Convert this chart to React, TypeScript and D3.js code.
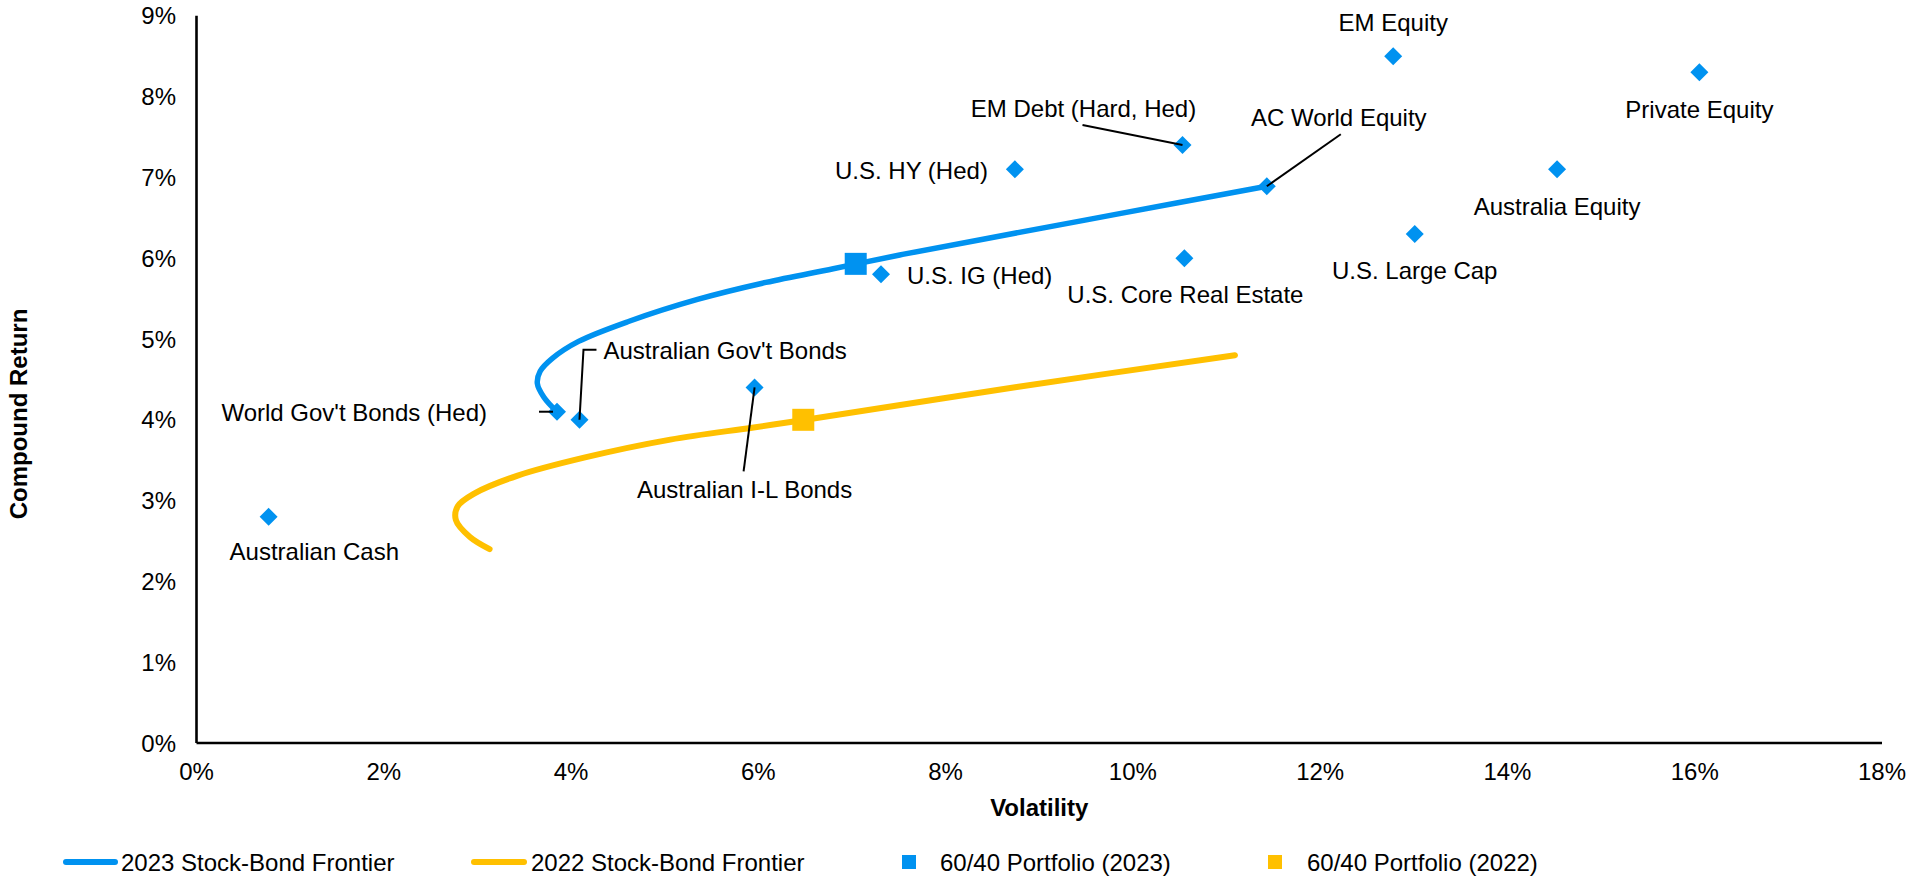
import React from "react";
import * as d3 from "d3";

// ---------- data ----------
const assetNames = [
  "EM Equity",
  "Private Equity",
  "EM Debt (Hard, Hed)",
  "U.S. HY (Hed)",
  "AC World Equity",
  "Australia Equity",
  "U.S. Large Cap",
  "U.S. Core Real Estate",
  "U.S. IG (Hed)",
  "Australian I-L Bonds",
  "Australian Gov't Bonds",
  "World Gov't Bonds (Hed)",
  "Australian Cash",
];
const assetVol = [12.78, 16.05, 10.53, 8.74, 11.43, 14.53, 13.01, 10.55, 7.31, 5.96, 4.09, 3.85, 0.77];
const assetRet = [8.5, 8.3, 7.4, 7.1, 6.89, 7.1, 6.3, 6.0, 5.8, 4.4, 4.0, 4.1, 2.8];

const frontier2023Vol = [3.85, 3.71, 3.64, 3.67, 3.8, 4.08, 4.62, 5.35, 6.08, 6.8, 7.51, 8.4, 9.83, 11.43];
const frontier2023Ret = [4.1, 4.28, 4.45, 4.6, 4.76, 4.97, 5.22, 5.49, 5.7, 5.87, 6.04, 6.235, 6.545, 6.89];

const frontier2022Vol = [3.13, 2.92, 2.77, 2.79, 2.97, 3.43, 4.15, 5.06, 5.95, 6.47, 8.76, 11.09];
const frontier2022Ret = [2.4, 2.55, 2.76, 2.93, 3.09, 3.31, 3.535, 3.755, 3.905, 3.995, 4.405, 4.8];

const portfolioNames = ["60/40 Portfolio (2023)", "60/40 Portfolio (2022)"];
const portfolioVol = [7.04, 6.48];
const portfolioRet = [5.93, 4.0];

const xTickValues = [0, 2, 4, 6, 8, 10, 12, 14, 16, 18];
const yTickValues = [0, 1, 2, 3, 4, 5, 6, 7, 8, 9];

const legendLabels = [
  "2023 Stock-Bond Frontier",
  "2022 Stock-Bond Frontier",
  "60/40 Portfolio (2023)",
  "60/40 Portfolio (2022)",
];

// ---------- layout / style ----------
const W = 1906;
const H = 876;
const BLUE = "#0092F0";
const YELLOW = "#FFC000";
const FONT = "'Liberation Sans', Arial, Helvetica, sans-serif";

// label placement relative to point (px): dx, dy, anchor, optional leader polyline (relative)
type LabelLayout = { dx: number; dy: number; anchor: "start" | "middle" | "end"; leader?: [number, number][] };
const labelLayout: Record<string, LabelLayout> = {
  "EM Equity": { dx: 0, dy: -34, anchor: "middle" },
  "Private Equity": { dx: 0, dy: 37, anchor: "middle" },
  "EM Debt (Hard, Hed)": { dx: -99, dy: -37, anchor: "middle", leader: [[-100, -20], [0, 0]] },
  "U.S. HY (Hed)": { dx: -27, dy: 1, anchor: "end" },
  "AC World Equity": { dx: 72, dy: -69, anchor: "middle", leader: [[74, -52], [0, 0]] },
  "Australia Equity": { dx: 0, dy: 37, anchor: "middle" },
  "U.S. Large Cap": { dx: 0, dy: 37, anchor: "middle" },
  "U.S. Core Real Estate": { dx: 1, dy: 36, anchor: "middle" },
  "U.S. IG (Hed)": { dx: 26, dy: 1, anchor: "start" },
  "Australian I-L Bonds": { dx: -10, dy: 102, anchor: "middle", leader: [[-11, 84], [0, 0]] },
  "Australian Gov't Bonds": { dx: 24, dy: -69, anchor: "start", leader: [[17, -70], [4, -70], [0, 0]] },
  "World Gov't Bonds (Hed)": { dx: -70, dy: 1, anchor: "end", leader: [[-18, 0], [-4, 0]] },
  "Australian Cash": { dx: -39, dy: 35, anchor: "start" },
};

export default function App() {
  const x = d3.scaleLinear().domain([0, 18]).range([196.5, 1882]);
  const y = d3.scaleLinear().domain([0, 9]).range([743, 15.8]);

  const line = d3
    .line<[number, number]>()
    .x((d) => x(d[0]))
    .y((d) => y(d[1]))
    .curve(d3.curveCatmullRom.alpha(0.5));

  const f23 = frontier2023Vol.map((v, i) => [v, frontier2023Ret[i]] as [number, number]);
  const f22 = frontier2022Vol.map((v, i) => [v, frontier2022Ret[i]] as [number, number]);

  const diamond = "M0,-9L9,0L0,9L-9,0Z";
  const sq = 22;
  const leaderLine = d3.line<[number, number]>();

  return (
    <svg
      width={W}
      height={H}
      style={{ position: "absolute", left: 0, top: 0, background: "#fff" }}
      fontFamily={FONT}
    >
      <rect x={0} y={0} width={W} height={H} fill="#fff" />

      {/* axes */}
      <line x1={x(0)} x2={x(0)} y1={y(9)} y2={y(0)} stroke="#000" strokeWidth={2.6} />
      <line x1={x(0)} x2={x(18)} y1={y(0)} y2={y(0)} stroke="#000" strokeWidth={2.6} />

      {yTickValues.map((v) => (
        <text key={"y" + v} x={176} y={y(v)} textAnchor="end" dominantBaseline="central" fontSize={24} fill="#000">
          {v + "%"}
        </text>
      ))}
      {xTickValues.map((v) => (
        <text key={"x" + v} x={x(v)} y={y(0) + 28} textAnchor="middle" dominantBaseline="central" fontSize={24} fill="#000">
          {v + "%"}
        </text>
      ))}

      <text x={(x(0) + x(18)) / 2} y={807} textAnchor="middle" dominantBaseline="central" fontSize={24} fontWeight="bold">
        Volatility
      </text>
      <text
        transform={`translate(18,414) rotate(-90)`}
        textAnchor="middle"
        dominantBaseline="central"
        fontSize={24}
        fontWeight="bold"
      >
        Compound Return
      </text>

      {/* frontiers */}
      <path d={line(f22) || ""} fill="none" stroke={YELLOW} strokeWidth={6} strokeLinecap="round" />
      <path d={line(f23) || ""} fill="none" stroke={BLUE} strokeWidth={5.5} strokeLinecap="round" />

      {/* portfolios */}
      {portfolioNames.map((n, i) => (
        <rect
          key={n}
          x={x(portfolioVol[i]) - sq / 2}
          y={y(portfolioRet[i]) - sq / 2}
          width={sq}
          height={sq}
          fill={i === 0 ? BLUE : YELLOW}
        />
      ))}

      {/* asset diamonds */}
      {assetNames.map((n, i) => (
        <path key={n} d={diamond} transform={`translate(${x(assetVol[i])},${y(assetRet[i])})`} fill={BLUE} />
      ))}

      {/* leaders and labels */}
      {assetNames.map((n, i) => {
        const px = x(assetVol[i]);
        const py = y(assetRet[i]);
        const L = labelLayout[n];
        return (
          <g key={"l" + n}>
            {L.leader && (
              <path
                d={leaderLine(L.leader.map((p) => [px + p[0], py + p[1]] as [number, number])) || ""}
                fill="none"
                stroke="#000"
                strokeWidth={2}
              />
            )}
            <text
              x={px + L.dx}
              y={py + L.dy}
              textAnchor={L.anchor}
              dominantBaseline="central"
              fontSize={24}
              fill="#000"
            >
              {n}
            </text>
          </g>
        );
      })}

      {/* legend */}
      <g>
        <line x1={66} x2={115} y1={862} y2={862} stroke={BLUE} strokeWidth={6} strokeLinecap="round" />
        <text x={121} y={862} dominantBaseline="central" fontSize={24}>{legendLabels[0]}</text>
        <line x1={474} x2={524} y1={862} y2={862} stroke={YELLOW} strokeWidth={6} strokeLinecap="round" />
        <text x={531} y={862} dominantBaseline="central" fontSize={24}>{legendLabels[1]}</text>
        <rect x={902} y={855} width={14} height={14} fill={BLUE} />
        <text x={940} y={862} dominantBaseline="central" fontSize={24}>{legendLabels[2]}</text>
        <rect x={1268} y={855} width={14} height={14} fill={YELLOW} />
        <text x={1307} y={862} dominantBaseline="central" fontSize={24}>{legendLabels[3]}</text>
      </g>
    </svg>
  );
}
